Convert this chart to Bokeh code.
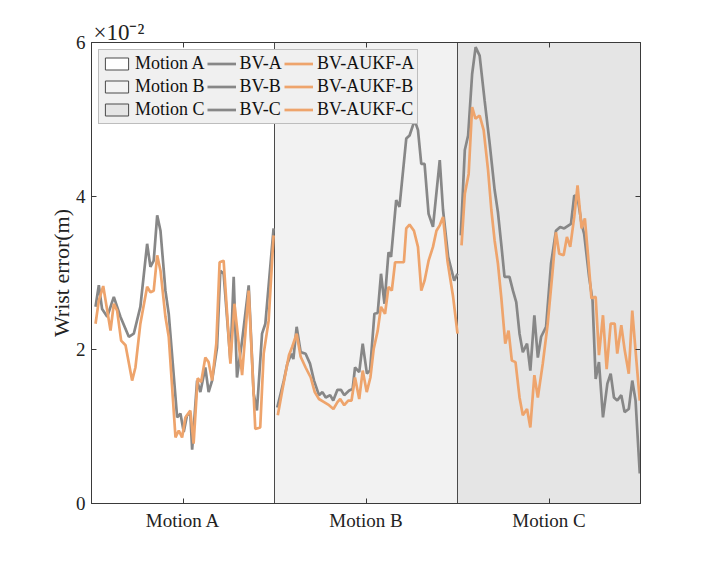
from bokeh.plotting import figure
from bokeh.models import Range1d, FixedTicker, LinearAxis, Legend, LegendItem, Title
from bokeh.embed import file_html
from bokeh.resources import INLINE

# ---- data (wrist error in units of 1e-2 m; x = % of each motion segment) ----
sections = ["Motion A", "Motion B", "Motion C"]
section_fill = ["#ffffff", "#f2f2f2", "#e5e5e5"]

bv_a_x = [2.2, 4.0, 5.8, 8.6, 12.2, 15.8, 20.4, 23.1, 26.7, 30.4, 32.2, 34.0, 35.9, 37.7, 40.4, 42.2, 46.8, 48.6, 50.4, 52.2,
          54.0, 55.0, 57.7, 59.5, 62.2, 64.0, 65.9, 68.6, 70.4, 72.2, 75.9, 77.7, 79.5, 82.3, 85.9, 88.6, 90.4, 93.2, 95.0, 99.5]
bv_a_y = [2.56, 2.84, 2.53, 2.43, 2.69, 2.43, 2.17, 2.21, 2.56, 3.38, 3.08, 3.16, 3.75, 3.55, 2.77, 2.47, 1.12, 1.17, 0.93, 1.15,
          1.17, 0.70, 1.60, 1.45, 1.77, 1.45, 1.60, 2.03, 3.03, 2.99, 1.86, 2.95, 1.64, 2.12, 2.84, 1.43, 1.21, 2.21, 2.34, 3.58]

ukf_a_x = [2.2, 4.0, 6.4, 10.4, 12.2, 14.0, 16.2, 18.6, 22.2, 24.0, 26.7, 30.4, 32.2, 34.0, 35.9, 37.7, 40.4, 42.2, 45.9, 47.7,
           49.5, 51.3, 54.0, 55.8, 58.0, 59.9, 62.2, 64.0, 65.9, 68.2, 70.0, 72.2, 75.9, 78.1, 82.3, 85.9, 89.5, 92.2, 94.1, 96.8, 99.5]
ukf_a_y = [2.34, 2.64, 2.83, 2.25, 2.60, 2.51, 2.12, 2.06, 1.60, 1.77, 2.34, 2.82, 2.75, 2.77, 3.23, 3.03, 2.43, 2.17, 0.86, 0.95,
           0.86, 1.12, 1.21, 0.78, 1.63, 1.58, 1.90, 1.84, 1.60, 2.08, 3.14, 3.16, 1.82, 2.60, 1.67, 2.77, 0.97, 0.99, 1.95, 2.38, 3.49]

bv_b_x = [1.5, 5.1, 7.0, 9.2, 10.3, 12.1, 14.3, 17.0, 19.4, 21.6, 24.3, 26.2, 28.0, 30.4, 32.1, 34.4, 36.3, 38.1, 40.8, 42.7,
          44.0, 46.3, 48.2, 50.5, 52.2, 54.6, 56.4, 58.2, 60.1, 62.3, 63.7, 66.5, 68.3, 72.0, 73.8, 76.6, 78.4, 80.2, 82.0, 84.2,
          86.6, 90.3, 92.1, 94.9, 98.2, 100.0]
bv_b_y = [1.25, 1.60, 1.82, 1.95, 1.88, 2.30, 1.97, 1.95, 1.82, 1.60, 1.41, 1.45, 1.38, 1.41, 1.34, 1.48, 1.48, 1.41, 1.47, 1.49,
          1.77, 1.71, 2.08, 1.69, 1.73, 2.47, 2.48, 2.99, 2.60, 3.27, 3.21, 3.95, 3.86, 4.75, 4.79, 4.99, 4.86, 4.42, 4.42, 3.77,
          3.60, 4.47, 3.82, 3.21, 2.90, 2.99]

ukf_b_x = [1.8, 5.1, 7.9, 9.7, 12.1, 14.3, 17.0, 19.8, 22.0, 24.3, 27.1, 29.8, 32.2, 34.4, 35.9, 38.1, 40.3, 42.1, 44.0, 46.3,
           48.2, 50.4, 52.4, 54.2, 56.4, 58.2, 60.4, 62.3, 64.1, 65.9, 70.7, 72.0, 73.8, 76.2, 78.4, 80.2, 82.0, 84.2, 86.6, 88.5,
           90.3, 92.1, 94.5, 97.6, 100.0]
ukf_b_y = [1.15, 1.58, 1.93, 2.04, 2.21, 1.91, 1.77, 1.64, 1.45, 1.36, 1.32, 1.28, 1.23, 1.32, 1.36, 1.28, 1.34, 1.34, 1.64, 1.36,
           1.73, 1.45, 1.64, 2.01, 2.25, 2.56, 2.47, 2.82, 2.77, 3.14, 3.14, 3.58, 3.63, 3.55, 3.34, 2.77, 2.90, 3.16, 3.34, 3.55,
           3.62, 3.73, 3.16, 2.69, 2.21]

bv_c_x = [1.8, 4.0, 5.8, 8.0, 9.9, 12.1, 14.8, 17.6, 20.3, 22.1, 23.9, 25.7, 28.4, 30.3, 32.1, 33.9, 35.7, 38.0, 39.8, 42.0,
          43.9, 45.7, 48.4, 51.1, 53.8, 56.1, 58.3, 62.0, 63.8, 65.6, 67.8, 69.2, 71.9, 73.8, 75.5, 77.3, 79.5, 81.9, 83.7, 85.5,
          87.3, 89.5, 91.3, 93.6, 95.5, 97.3, 99.6]
bv_c_y = [3.49, 4.60, 4.79, 5.59, 5.94, 5.83, 5.25, 4.68, 4.08, 3.79, 3.38, 2.95, 2.95, 2.77, 2.62, 2.21, 1.97, 2.08, 1.73, 2.45,
          1.90, 2.17, 2.30, 3.12, 3.55, 3.60, 3.58, 3.64, 4.01, 3.99, 3.64, 3.51, 2.95, 2.64, 1.62, 1.84, 1.12, 1.56, 1.69, 1.38,
          1.34, 1.41, 1.19, 1.23, 1.60, 1.34, 0.39]

ukf_c_x = [2.2, 4.0, 6.1, 8.0, 9.8, 12.1, 14.3, 16.7, 18.5, 20.3, 22.1, 23.9, 26.1, 27.9, 29.7, 31.7, 33.9, 35.7, 38.0, 39.8,
           42.0, 43.9, 46.6, 49.3, 52.0, 53.8, 55.6, 58.0, 59.8, 61.6, 63.8, 65.6, 67.8, 69.6, 71.4, 73.2, 75.5, 77.3, 79.5, 81.5,
           83.7, 85.9, 87.3, 89.5, 91.4, 93.6, 95.5, 97.3, 99.6]
ukf_c_y = [3.36, 4.03, 4.29, 5.16, 5.01, 5.05, 4.86, 4.34, 3.82, 3.42, 3.12, 2.69, 2.08, 2.25, 1.86, 1.84, 1.38, 1.15, 1.23, 0.99,
           1.67, 1.38, 1.82, 2.34, 3.03, 3.53, 3.25, 3.23, 3.47, 3.34, 3.73, 4.14, 3.58, 3.71, 3.21, 2.67, 2.69, 1.93, 2.45, 1.75,
           2.34, 2.34, 1.95, 2.32, 1.99, 1.69, 2.51, 1.99, 1.34]

y_ticks = [0, 2, 4, 6]
exponent_text = "×10⁻²"

# ---- figure ----
FONT = "Liberation Serif"
AX = "#3a3a3a"
TXT = "#222222"
GRAY = "#878787"
ORANGE = "#eea46c"
SEG = 100.0

p = figure(width=690, height=549, output_backend="svg", toolbar_location=None,
           x_range=Range1d(0, 3 * SEG), y_range=Range1d(0, 6),
           x_axis_type=None, y_axis_type=None,
           min_border_left=91, min_border_right=50, min_border_top=42, min_border_bottom=46)
p.grid.visible = False
p.outline_line_color = AX
p.outline_line_width = 1
p.background_fill_color = "white"
p.border_fill_color = "white"

# section backgrounds
lefts = [i * SEG for i in range(len(sections))]
rights = [(i + 1) * SEG for i in range(len(sections))]
quads = []
for i, name in enumerate(sections):
    q = p.quad(left=lefts[i], right=rights[i], bottom=y_ticks[0], top=y_ticks[-1],
               fill_color=section_fill[i], line_color="#4a4a4a", line_width=1)
    quads.append(q)

def shift(xs, k):
    return [k * SEG + v for v in xs]

bv = []
ukf = []
for k, (bx, by, ux, uy) in enumerate([(bv_a_x, bv_a_y, ukf_a_x, ukf_a_y),
                                        (bv_b_x, bv_b_y, ukf_b_x, ukf_b_y),
                                        (bv_c_x, bv_c_y, ukf_c_x, ukf_c_y)]):
    bv.append(p.line(shift(bx, k), by, line_color=GRAY, line_width=2.7))
    ukf.append(p.line(shift(ux, k), uy, line_color=ORANGE, line_width=2.7))

def style_axis(ax, labels=True):
    ax.axis_line_color = AX
    ax.major_tick_line_color = AX
    ax.major_tick_in = 5
    ax.major_tick_out = 0
    ax.minor_tick_line_color = None
    ax.major_label_text_font = FONT
    ax.major_label_text_color = TXT
    ax.axis_label_text_font = FONT
    ax.axis_label_text_font_style = "normal"
    ax.axis_label_text_color = TXT
    if not labels:
        ax.major_label_text_color = None
        ax.major_label_text_font_size = "1px"
        ax.major_label_standoff = 0

xb = LinearAxis(ticker=FixedTicker(ticks=[(i + 0.5) * SEG for i in range(len(sections))]),
                major_label_overrides={(i + 0.5) * SEG: s for i, s in enumerate(sections)})
style_axis(xb)
xb.major_label_text_font_size = "19px"
xb.major_label_standoff = 6
p.add_layout(xb, "below")

xt = LinearAxis(ticker=FixedTicker(ticks=[(i + 0.5) * SEG for i in range(len(sections))]))
style_axis(xt, labels=False)
p.add_layout(xt, "above")

exp_title = Title(text=exponent_text, align="left", offset=2, standoff=-4,
                  text_font=FONT, text_font_size="23px", text_font_style="normal",
                  text_color=TXT)
p.add_layout(exp_title, "above")

yl = LinearAxis(ticker=FixedTicker(ticks=y_ticks), axis_label="Wrist error(m)")
style_axis(yl)
yl.major_label_text_font_size = "19px"
yl.axis_label_text_font_size = "22px"
yl.major_label_standoff = 6
yl.axis_label_standoff = -1
p.add_layout(yl, "left")

yr = LinearAxis(ticker=FixedTicker(ticks=y_ticks))
style_axis(yr, labels=False)
p.add_layout(yr, "right")

items = [LegendItem(label=s, renderers=[quads[i]]) for i, s in enumerate(sections)]
items += [LegendItem(label="BV-" + s[-1], renderers=[bv[i]]) for i, s in enumerate(sections)]
items += [LegendItem(label="BV-AUKF-" + s[-1], renderers=[ukf[i]]) for i, s in enumerate(sections)]
legend = Legend(items=items, ncols=3, location="top_left",
                label_text_font=FONT, label_text_font_size="18px", label_text_color="#111111",
                label_height=14, label_standoff=4, glyph_width=29, glyph_height=15,
                spacing=2, padding=3, margin=7,
                border_line_color="#8a8a8a", border_line_width=1,
                background_fill_color="#f0f0f0", background_fill_alpha=1.0)
p.add_layout(legend)

open("out.html", "w").write(file_html(p, INLINE))
